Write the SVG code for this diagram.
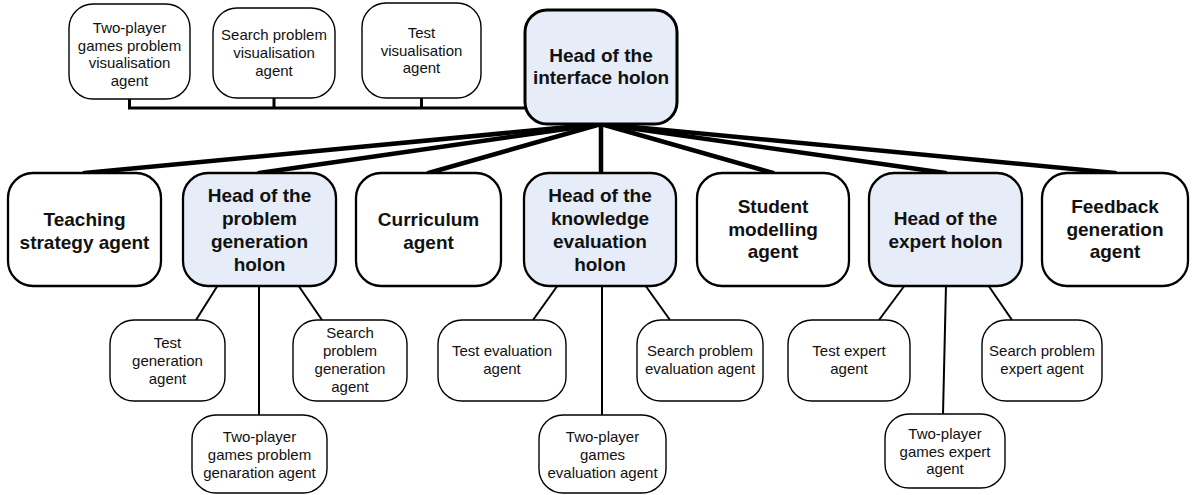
<svg xmlns="http://www.w3.org/2000/svg" width="1192" height="495" viewBox="0 0 1192 495">
  <style>
    .bg { fill: #ffffff; }
    .box { fill: #ffffff; stroke: #000; stroke-width: 1.4; }
    .agent { fill: #ffffff; stroke: #000; stroke-width: 2.3; }
    .head { fill: #e6ecf8; stroke: #000; stroke-width: 2.3; }
    .top { fill: #e6ecf8; stroke: #000; stroke-width: 3; }
    .sm { font-family: "Liberation Sans", Arial, sans-serif; font-size: 15px; fill: #111; text-anchor: middle; }
    .bd { font-family: "Liberation Sans", Arial, sans-serif; font-size: 19px; font-weight: bold; fill: #111; text-anchor: middle; }
    .fan { stroke: #000; stroke-width: 4.5; fill: none; stroke-linecap: round; }
    .bus { stroke: #000; stroke-width: 3; fill: none; }
    .leg { stroke: #000; stroke-width: 2; fill: none; }
  </style>
  <rect class="bg" x="0" y="0" width="1192" height="495"/>

  <!-- connectors -->
  <g id="connectors">
    <!-- visualisation agents bus -->
    <polyline class="bus" points="129.5,99 129.5,108 525,108"/>
    <line class="bus" x1="274" y1="98" x2="274" y2="108"/>
    <line class="bus" x1="421.5" y1="98" x2="421.5" y2="108"/>
    <!-- fan from interface head -->
    <line class="fan" x1="601" y1="124" x2="84.5" y2="173"/>
    <line class="fan" x1="601" y1="124" x2="259" y2="173"/>
    <line class="fan" x1="601" y1="124" x2="428.5" y2="173"/>
    <line class="fan" x1="601" y1="124" x2="601" y2="173"/>
    <line class="fan" x1="601" y1="124" x2="773" y2="173"/>
    <line class="fan" x1="601" y1="124" x2="945.5" y2="173"/>
    <line class="fan" x1="601" y1="124" x2="1115" y2="173"/>
    <!-- problem generation holon -->
    <line class="leg" x1="218" y1="285" x2="196" y2="320"/>
    <line class="leg" x1="259" y1="285" x2="259" y2="415"/>
    <line class="leg" x1="298" y1="285" x2="322" y2="320"/>
    <!-- knowledge evaluation holon -->
    <line class="leg" x1="558" y1="285" x2="533" y2="320"/>
    <line class="leg" x1="602" y1="285" x2="602" y2="415"/>
    <line class="leg" x1="645" y1="285" x2="670" y2="320"/>
    <!-- expert holon -->
    <line class="leg" x1="905" y1="285" x2="879" y2="320"/>
    <line class="leg" x1="946" y1="285" x2="943" y2="414"/>
    <line class="leg" x1="988" y1="285" x2="1012" y2="320"/>
  </g>

  <!-- visualisation agents -->
  <g id="vis-two-player">
    <rect class="box" x="69" y="4" width="121" height="95" rx="24"/>
    <text class="sm" x="129.5" y="33">Two-player</text>
    <text class="sm" x="129.5" y="50.5">games problem</text>
    <text class="sm" x="129.5" y="68">visualisation</text>
    <text class="sm" x="129.5" y="85.5">agent</text>
  </g>
  <g id="vis-search">
    <rect class="box" x="213" y="8" width="122" height="90" rx="24"/>
    <text class="sm" x="274" y="40">Search problem</text>
    <text class="sm" x="274" y="58">visualisation</text>
    <text class="sm" x="274" y="76">agent</text>
  </g>
  <g id="vis-test">
    <rect class="box" x="362" y="3" width="119" height="95" rx="24"/>
    <text class="sm" x="421.5" y="38">Test</text>
    <text class="sm" x="421.5" y="55.5">visualisation</text>
    <text class="sm" x="421.5" y="73">agent</text>
  </g>

  <!-- interface holon head -->
  <g id="interface-head">
    <rect class="top" x="525" y="10" width="152" height="114" rx="22"/>
    <text class="bd" x="601" y="62">Head of the</text>
    <text class="bd" x="601" y="84">interface holon</text>
  </g>

  <!-- second level -->
  <g id="teaching-strategy">
    <rect class="agent" x="8" y="173" width="153" height="113" rx="25"/>
    <text class="bd" x="84.5" y="226">Teaching</text>
    <text class="bd" x="84.5" y="249">strategy agent</text>
  </g>
  <g id="problem-generation-head">
    <rect class="head" x="183" y="173" width="153" height="113" rx="25"/>
    <text class="bd" x="259.5" y="202">Head of the</text>
    <text class="bd" x="259.5" y="224.5">problem</text>
    <text class="bd" x="259.5" y="247.5">generation</text>
    <text class="bd" x="259.5" y="270.5">holon</text>
  </g>
  <g id="curriculum">
    <rect class="agent" x="356" y="173" width="145" height="113" rx="25"/>
    <text class="bd" x="428.5" y="226">Curriculum</text>
    <text class="bd" x="428.5" y="249">agent</text>
  </g>
  <g id="knowledge-evaluation-head">
    <rect class="head" x="524" y="173" width="152" height="113" rx="25"/>
    <text class="bd" x="600" y="202">Head of the</text>
    <text class="bd" x="600" y="224.5">knowledge</text>
    <text class="bd" x="600" y="247.5">evaluation</text>
    <text class="bd" x="600" y="270.5">holon</text>
  </g>
  <g id="student-modelling">
    <rect class="agent" x="697" y="173" width="152" height="113" rx="25"/>
    <text class="bd" x="773" y="213">Student</text>
    <text class="bd" x="773" y="235.5">modelling</text>
    <text class="bd" x="773" y="258">agent</text>
  </g>
  <g id="expert-head">
    <rect class="head" x="869" y="173" width="153" height="113" rx="25"/>
    <text class="bd" x="945.5" y="225">Head of the</text>
    <text class="bd" x="945.5" y="248">expert holon</text>
  </g>
  <g id="feedback-generation">
    <rect class="agent" x="1042" y="173" width="146" height="113" rx="25"/>
    <text class="bd" x="1115" y="213">Feedback</text>
    <text class="bd" x="1115" y="235.5">generation</text>
    <text class="bd" x="1115" y="258">agent</text>
  </g>

  <!-- problem generation agents -->
  <g id="test-generation">
    <rect class="box" x="110" y="320" width="115" height="81" rx="24"/>
    <text class="sm" x="167.5" y="348">Test</text>
    <text class="sm" x="167.5" y="366">generation</text>
    <text class="sm" x="167.5" y="384">agent</text>
  </g>
  <g id="search-generation">
    <rect class="box" x="293" y="320" width="114" height="81" rx="24"/>
    <text class="sm" x="350" y="338">Search</text>
    <text class="sm" x="350" y="356">problem</text>
    <text class="sm" x="350" y="374">generation</text>
    <text class="sm" x="350" y="392">agent</text>
  </g>
  <g id="two-player-generation">
    <rect class="box" x="192" y="415" width="135" height="78" rx="24"/>
    <text class="sm" x="259.5" y="442">Two-player</text>
    <text class="sm" x="259.5" y="460">games problem</text>
    <text class="sm" x="259.5" y="478">genaration agent</text>
  </g>

  <!-- knowledge evaluation agents -->
  <g id="test-evaluation">
    <rect class="box" x="438" y="320" width="128" height="81" rx="24"/>
    <text class="sm" x="502" y="356">Test evaluation</text>
    <text class="sm" x="502" y="374">agent</text>
  </g>
  <g id="search-evaluation">
    <rect class="box" x="637" y="320" width="126" height="81" rx="24"/>
    <text class="sm" x="700" y="356">Search problem</text>
    <text class="sm" x="700" y="374">evaluation agent</text>
  </g>
  <g id="two-player-evaluation">
    <rect class="box" x="539" y="415" width="127" height="78" rx="24"/>
    <text class="sm" x="602.5" y="442">Two-player</text>
    <text class="sm" x="602.5" y="460">games</text>
    <text class="sm" x="602.5" y="478">evaluation agent</text>
  </g>

  <!-- expert agents -->
  <g id="test-expert">
    <rect class="box" x="788" y="320" width="122" height="81" rx="24"/>
    <text class="sm" x="849" y="356">Test expert</text>
    <text class="sm" x="849" y="374">agent</text>
  </g>
  <g id="search-expert">
    <rect class="box" x="982" y="320" width="120" height="81" rx="24"/>
    <text class="sm" x="1042" y="356">Search problem</text>
    <text class="sm" x="1042" y="374">expert agent</text>
  </g>
  <g id="two-player-expert">
    <rect class="box" x="885" y="414" width="120" height="74" rx="24"/>
    <text class="sm" x="945" y="439">Two-player</text>
    <text class="sm" x="945" y="457">games expert</text>
    <text class="sm" x="945" y="474">agent</text>
  </g>
</svg>
